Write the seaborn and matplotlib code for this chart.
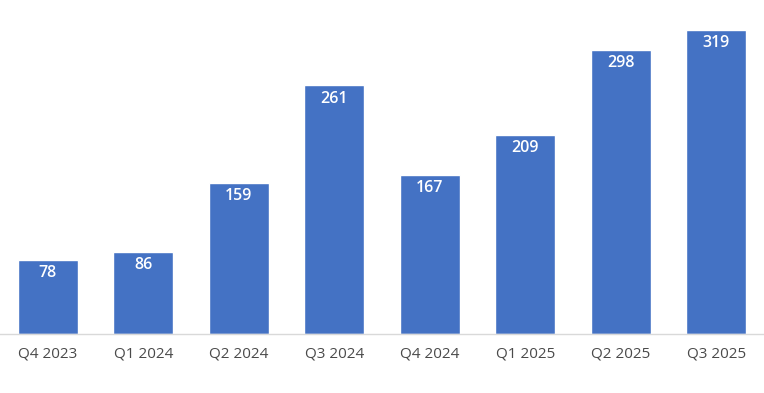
import matplotlib
matplotlib.use("Agg")
import matplotlib.pyplot as plt
import seaborn as sns
import pandas as pd

quarters = ["Q4 2023", "Q1 2024", "Q2 2024", "Q3 2024", "Q4 2024", "Q1 2025", "Q2 2025", "Q3 2025"]
values = [78, 86, 159, 261, 167, 209, 298, 319]

sns.set_style("white")
plt.rcParams["font.family"] = ["Open Sans", "DejaVu Sans"]

df = pd.DataFrame({"quarter": quarters, "value": values})

fig = plt.figure(figsize=(7.64, 3.93), dpi=100)
ax = fig.add_axes([0, 0.150, 1, 0.807])
sns.barplot(data=df, x="quarter", y="value", color="#4472C4", saturation=1, width=0.63, ax=ax)
ax.set_xlim(-0.5, 7.5)
ax.set_ylim(0, 333)

for i, v in enumerate(values):
    ax.text(i, v - 5.5, str(v), ha="center", va="top", color="white", fontsize=11.5, fontweight="semibold")

for s in ["top", "right", "left"]:
    ax.spines[s].set_visible(False)
ax.spines["bottom"].set_color("#d9d9d9")
ax.spines["bottom"].set_linewidth(1)
ax.set_yticks([])
ax.set_xlabel("")
ax.set_ylabel("")
ax.tick_params(axis="x", length=0, pad=9, labelsize=11, labelcolor="#4a4a4a")

fig.savefig("out.png", dpi=100)
